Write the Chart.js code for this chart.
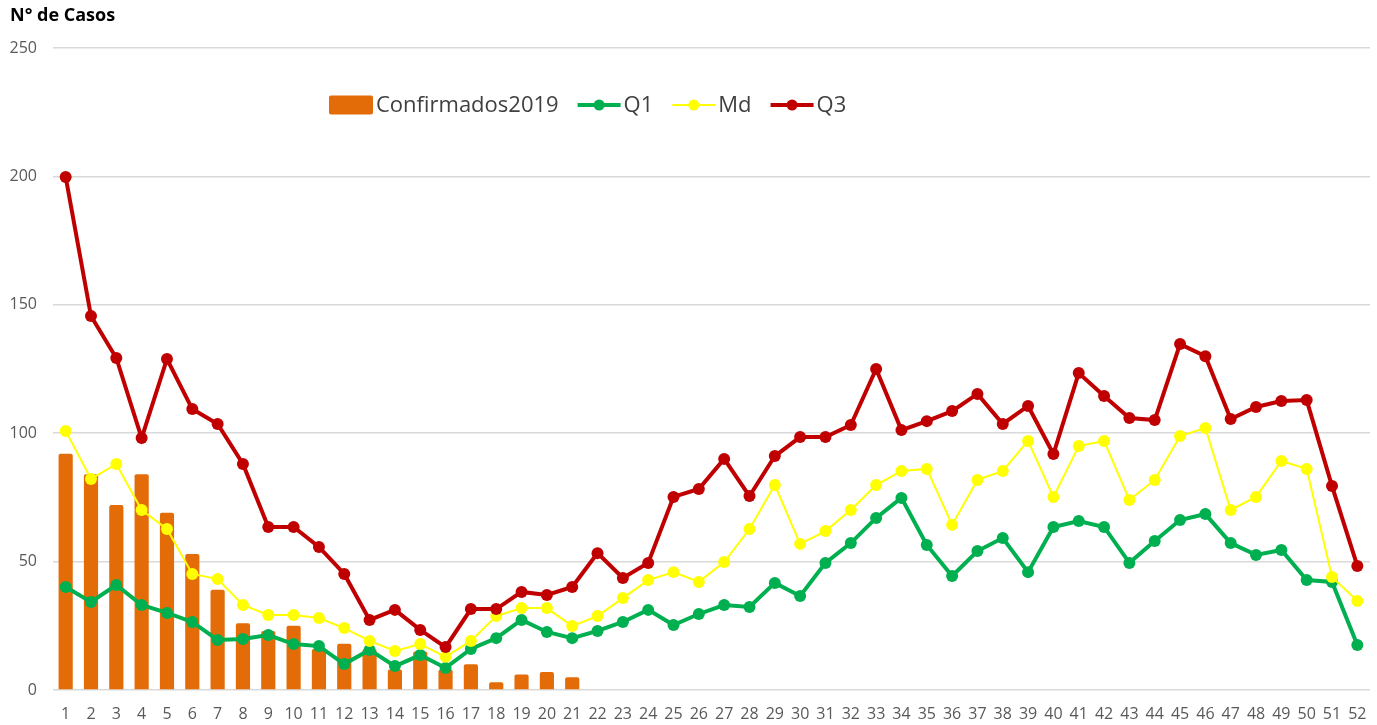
<!DOCTYPE html>
<html><head><meta charset="utf-8">
<script src="https://cdn.jsdelivr.net/npm/chart.js@4.4.1/dist/chart.umd.min.js"></script>
<style>html,body{margin:0;padding:0;background:#fff}#wrap{width:1377px;height:725px}</style>
</head><body><div id="wrap"><canvas id="c" width="1377" height="725"></canvas></div>
<script>
const weeks = ['1','2','3','4','5','6','7','8','9','10','11','12','13','14','15','16','17','18','19','20','21','22','23','24','25','26','27','28','29','30','31','32','33','34','35','36','37','38','39','40','41','42','43','44','45','46','47','48','49','50','51','52'];
const confirmados2019 = [92,84,72,84,69,53,39,26,23,25,16,18,16,8,15,8,10,3,6,7,5];
const q1 = [40.1,34.3,40.9,33.1,30,26.5,19.5,19.9,21.4,17.9,17.1,10.1,15.6,9.3,13.6,8.6,16,20.2,27.3,22.6,20.2,23,26.5,31.2,25.3,29.6,33.1,32.3,41.7,36.6,49.5,57.2,67,74.8,56.5,44.4,54.1,59.2,45.9,63.5,65.8,63.5,49.5,58,66.2,68.5,57.2,52.6,54.5,42.8,42.1,17.5];
const md = [100.9,82.2,88,70.1,62.7,45.2,43.2,33.1,29.2,29.2,28,24.1,19.1,15.2,17.9,12.9,19.1,28.8,31.9,31.9,24.9,28.8,35.8,42.8,45.9,42.1,49.8,62.7,79.8,56.9,61.9,70.1,79.8,85.3,86.1,64.3,81.8,85.3,97,75.2,95,97,74,81.8,98.9,102,70.1,75.2,89.2,86.1,44,34.7];
const q3 = [199.8,145.6,129.3,98.1,128.9,109.4,103.6,88,63.5,63.5,55.7,45.2,27.3,31.2,23.4,16.7,31.5,31.5,38.2,37,40.1,53.3,43.6,49.5,75.2,78.3,90,75.5,91.1,98.5,98.5,103.2,125,101.2,104.7,108.6,115.3,103.6,110.6,91.9,123.4,114.5,105.9,105.1,134.7,130,105.5,110.2,112.5,112.9,79.4,48.3];
const yMax = 250, yStep = 50;

const FONT = '"Open Sans", "Liberation Sans", sans-serif';

const legendPlugin = {
  id: 'customLegend',
  afterDraw(chart) {
    const ctx = chart.ctx;
    ctx.save();
    ctx.font = '22px ' + FONT;
    ctx.textBaseline = 'middle';
    let x = 329; const y = 105;
    chart.data.datasets.forEach(ds => {
      if (ds.type === 'bar') {
        ctx.fillStyle = ds.backgroundColor;
        ctx.beginPath();
        ctx.roundRect(x, y - 9.5, 44, 19, 2);
        ctx.fill();
        x += 47;
      } else {
        ctx.strokeStyle = ds.borderColor;
        ctx.lineWidth = ds.borderWidth;
        ctx.beginPath(); ctx.moveTo(x, y); ctx.lineTo(x + 43, y); ctx.stroke();
        ctx.fillStyle = ds.pointBackgroundColor;
        ctx.beginPath(); ctx.arc(x + 21.5, y, 5.5, 0, Math.PI * 2); ctx.fill();
        x += 46;
      }
      ctx.fillStyle = '#404040';
      ctx.fillText(ds.label, x, y + 1);
      x += ctx.measureText(ds.label).width + 19;
    });
    ctx.restore();
  }
};

new Chart(document.getElementById('c'), {
  data: {
    labels: weeks,
    datasets: [
      { type: 'bar', label: 'Confirmados2019', data: confirmados2019, backgroundColor: '#E36C09', borderColor: '#EE8A45', borderWidth: 0, borderRadius: 2, barPercentage: 0.56, categoryPercentage: 1, order: 4 },
      { type: 'line', label: 'Q1', data: q1, borderColor: '#00B050', backgroundColor: '#00B050', pointBackgroundColor: '#00B050', pointBorderColor: '#00B050', borderWidth: 4, pointRadius: 6, pointBorderWidth: 0, tension: 0, order: 3 },
      { type: 'line', label: 'Md', data: md, borderColor: '#FFFF00', backgroundColor: '#FFFF00', pointBackgroundColor: '#FFFF00', pointBorderColor: '#FFFF00', borderWidth: 2, pointRadius: 6, pointBorderWidth: 0, tension: 0, order: 2 },
      { type: 'line', label: 'Q3', data: q3, borderColor: '#C00000', backgroundColor: '#C00000', pointBackgroundColor: '#C00000', pointBorderColor: '#C00000', borderWidth: 4, pointRadius: 6, pointBorderWidth: 0, tension: 0, order: 1 }
    ]
  },
  options: {
    responsive: false,
    animation: false,
    layout: { padding: { left: 10, right: 7, top: 0, bottom: 0 } },
    plugins: {
      legend: { display: false },
      tooltip: { enabled: false },
      title: { display: true, text: 'N° de Casos', align: 'start', color: '#000000', font: { family: FONT, size: 18, weight: 'bold' }, padding: { top: 5, bottom: 21.4 } }
    },
    scales: {
      x: {
        offset: true,
        grid: { display: false, drawTicks: false },
        border: { display: false },
        ticks: { color: '#595959', font: { family: FONT, size: 16, lineHeight: 1.8 }, padding: 10, maxRotation: 0, autoSkip: false },
        afterFit(s) { s.height = 35; }
      },
      y: {
        min: 0, max: yMax,
        grid: { color: '#d9d9d9', lineWidth: 1.5, drawTicks: false },
        border: { display: false },
        ticks: { stepSize: yStep, color: '#595959', font: { family: FONT, size: 16 }, padding: 16 },
        afterFit(s) { s.width = 43; }
      }
    }
  },
  plugins: [legendPlugin]
});
</script>
</body></html>
